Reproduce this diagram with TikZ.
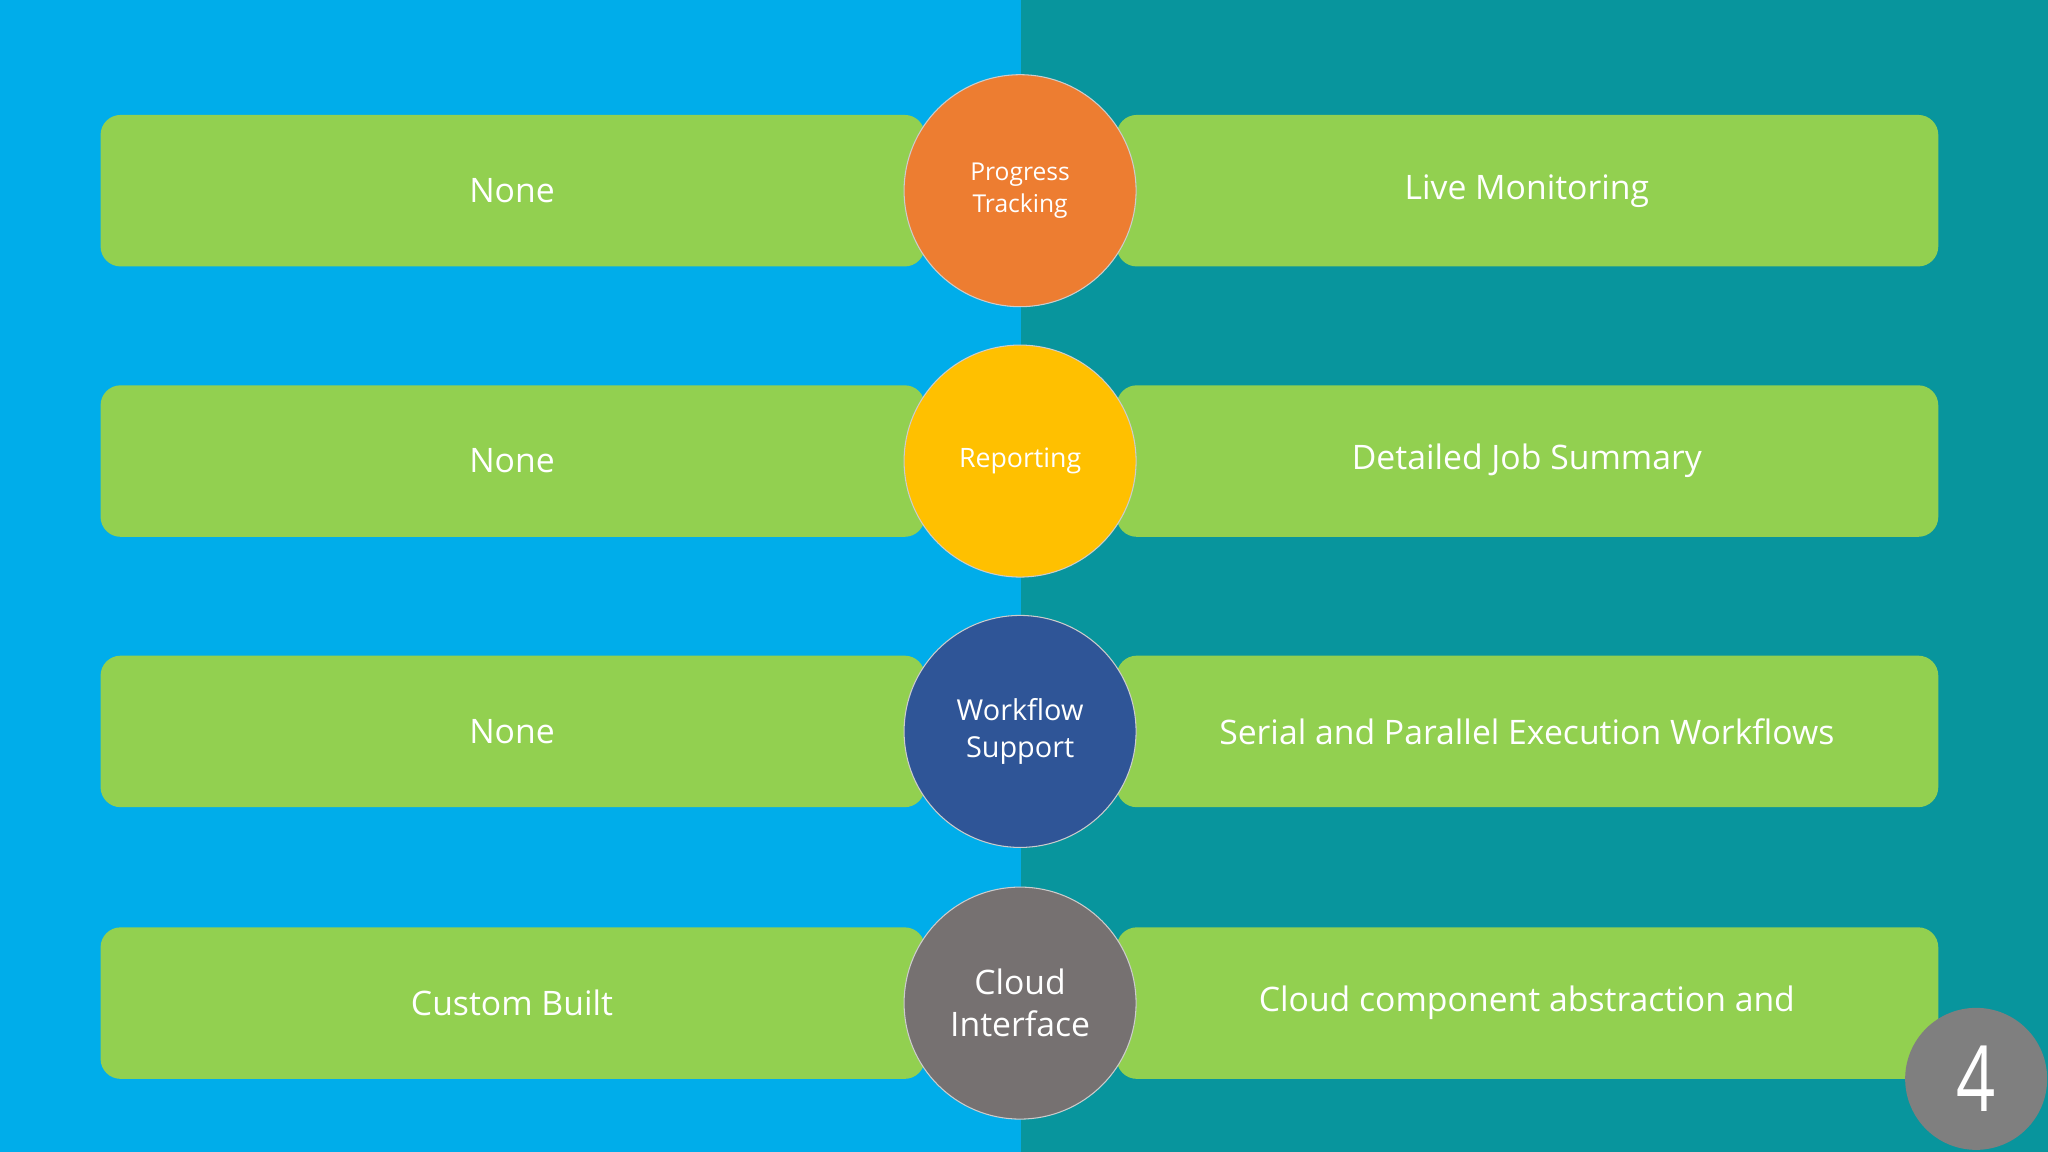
\documentclass[tikz,border=0pt]{standalone}
\usepackage{fontspec}
\setmainfont{Open Sans}
\definecolor{lb}{HTML}{00ADEA}
\definecolor{tl}{HTML}{08959D}
\definecolor{gr}{HTML}{92D050}
\definecolor{orc}{HTML}{ED7D31}
\definecolor{yec}{HTML}{FFC000}
\definecolor{dbc}{HTML}{2F5597}
\definecolor{gyc}{HTML}{767171}
\definecolor{nc}{HTML}{7F7F7F}
\begin{document}
\begin{tikzpicture}[x=0.013061cm,y=-0.013061cm,
  bar/.style={fill=gr,draw=none,rounded corners=0.2cm},
  lbl/.style={text=white,font=\fontsize{9.6}{11}\selectfont,align=center},
  circ/.style={circle,minimum size=2.32cm,inner sep=0pt,text=white,align=center,draw=white!60!gray,line width=0.3pt}]
\useasboundingbox (0,0) rectangle (1568,882);
\fill[lb] (0,0) rectangle (782,882);
\fill[tl] (782,0) rectangle (1568,882);
\foreach \y/\l/\r [count=\i] in {88/None/Live Monitoring,295/None/Detailed Job Summary,502/None/Serial and Parallel Execution Workflows,710/Custom Built/Cloud component abstraction and}{
  \fill[bar] (77,\y) rectangle (708,\y+116);
  \fill[bar] (855,\y) rectangle (1484,\y+116);
  \node[lbl] (L\i) at (392,\y+58) {\l};
  \node[lbl] (R\i) at (1169,\y+58) {\r};
}
\node[circ,fill=orc,font=\fontsize{7}{9}\selectfont] (c1) at (781,146) {Progress\\Tracking};
\node[circ,fill=yec,font=\fontsize{7.6}{9}\selectfont] (c2) at (781,353) {Reporting};
\node[circ,fill=dbc,font=\fontsize{8.2}{10.5}\selectfont] (c3) at (781,560) {Workflow\\Support};
\node[circ,fill=gyc,font=\fontsize{9.6}{12}\selectfont] (c4) at (781,768) {Cloud\\Interface};
\begin{scope}
\clip (0,0) rectangle (1568,882);
\node[circle,fill=nc,minimum size=1.42cm,inner sep=0pt] (n4) at (1513,826) {};
\node[text=white,font=\fontsize{26}{26}\selectfont,xscale=0.75] (t4) at (1513,826) {4};
\end{scope}
\end{tikzpicture}
\end{document}
